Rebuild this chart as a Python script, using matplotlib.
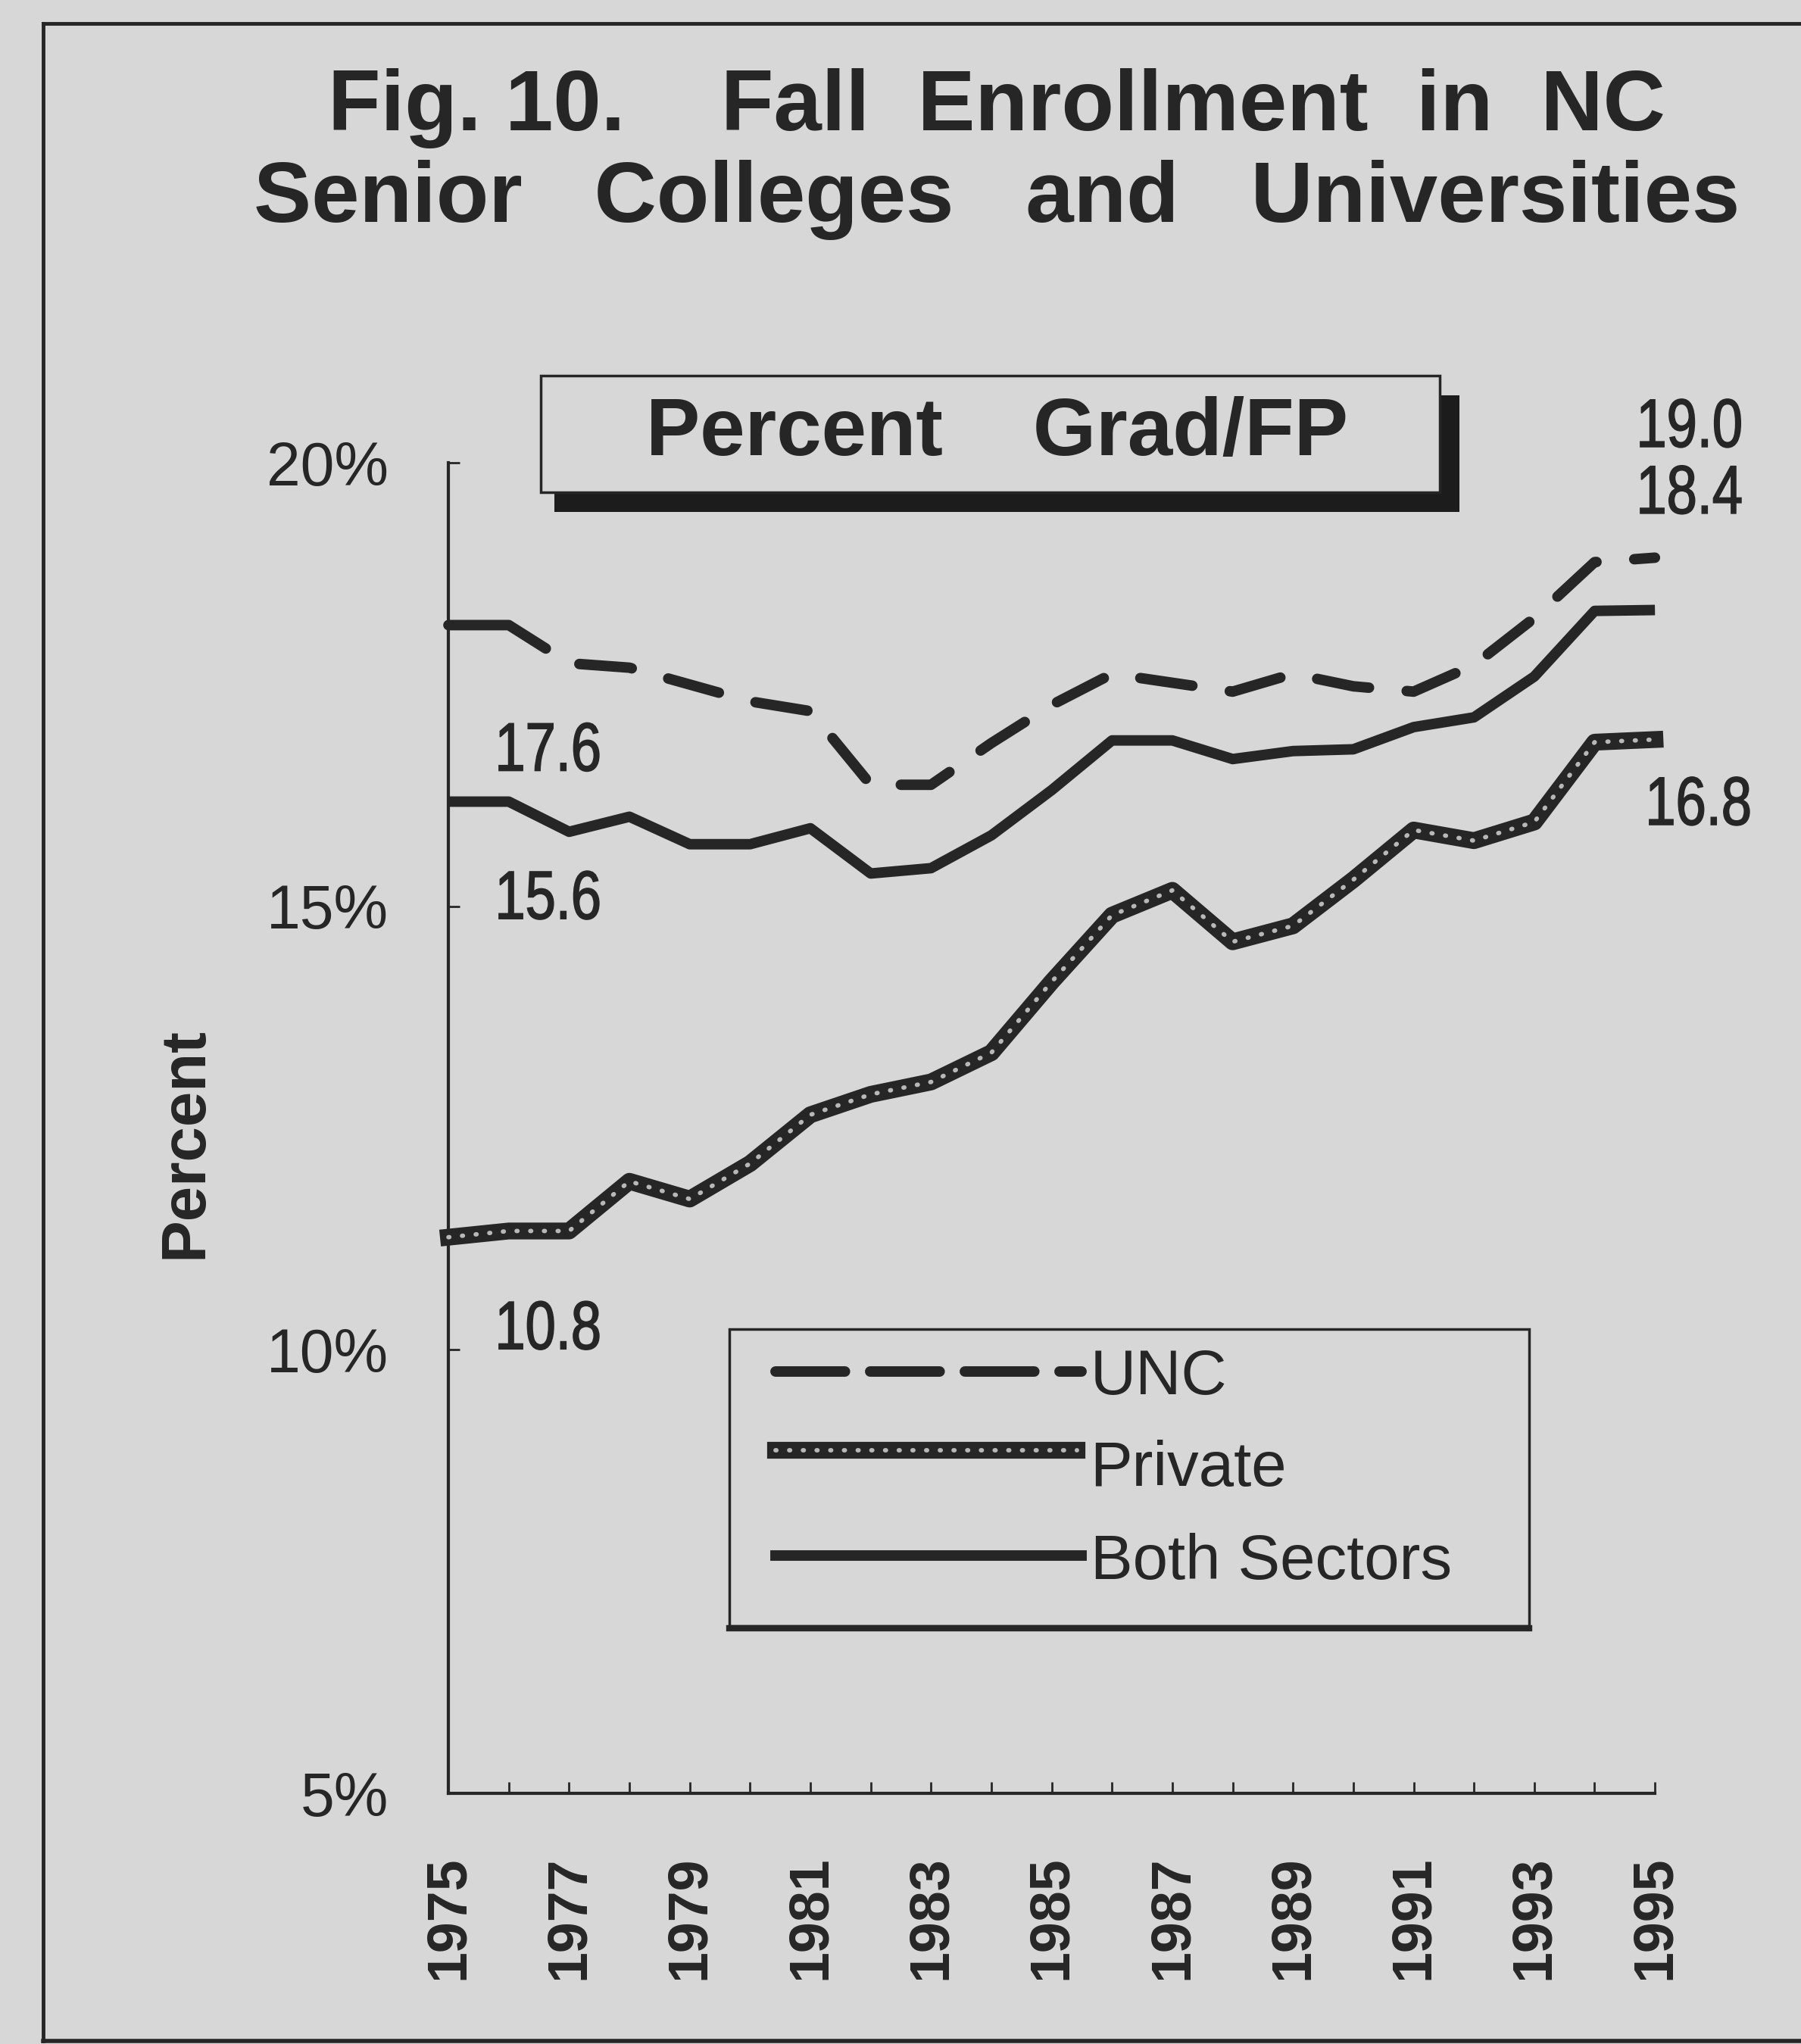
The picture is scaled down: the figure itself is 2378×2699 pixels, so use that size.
import matplotlib.pyplot as plt
import matplotlib.transforms as mtransforms
from matplotlib.patches import Rectangle, PathPatch
from matplotlib.lines import Line2D
from matplotlib.textpath import TextPath
from matplotlib.font_manager import FontProperties

# Percent Grad/FP, fall enrollment in NC senior colleges and universities
years = list(range(1975, 1996))
unc = [18.17, 18.17, 17.74, 17.69, 17.5, 17.31, 17.2, 16.37, 16.37, 16.84, 17.27,
       17.62, 17.52, 17.42, 17.62, 17.48, 17.42, 17.72, 18.25, 18.88, 18.93]
private = [11.27, 11.34, 11.34, 11.9, 11.7, 12.1, 12.65, 12.88, 13.02, 13.35, 14.15,
           14.9, 15.18, 14.6, 14.78, 15.3, 15.86, 15.74, 15.95, 16.85, 16.88]
both = [16.18, 16.18, 15.84, 16.01, 15.7, 15.7, 15.88, 15.37, 15.43, 15.8, 16.31,
        16.87, 16.87, 16.66, 16.75, 16.77, 17.02, 17.13, 17.59, 18.33, 18.34]

ytick_vals = [5, 10, 15, 20]
ytick_labels = ['5%', '10%', '15%', '20%']
xtick_labels = [str(y) if y % 2 == 1 else '' for y in years]

BG = '#d7d7d7'
INK = '#262626'
CHAIN = '#b8b8b8'
FONT = ['Liberation Sans', 'DejaVu Sans']

fig = plt.figure(figsize=(23.78, 26.99), dpi=100, facecolor=BG)
ax = fig.add_axes([0.2490, 0.1226, 0.6699, 0.6510])
ax.set_facecolor(BG)
ax.set_xlim(1975, 1995)
ax.set_ylim(5, 20)

# UNC dash pattern: a long first stroke, then regular dashes
unc_dash = (0, (9.9, 3.6) + (5, 3.6) * 25)

# series
ax.plot(years, both, color=INK, lw=10, solid_joinstyle='round',
        solid_capstyle='butt', zorder=3, clip_on=False)
ax.plot(years, unc, color=INK, lw=10, linestyle=unc_dash,
        dash_capstyle='round', dash_joinstyle='round', zorder=3, clip_on=False)
ax.plot(years, private, color=INK, lw=16, solid_joinstyle='round',
        zorder=3, clip_on=False)
ax.plot(years, private, color=CHAIN, lw=4.2, linestyle=(0, (0.2, 2.9)),
        dash_capstyle='round', zorder=4, clip_on=False)

# axes styling
for s in ['top', 'right']:
    ax.spines[s].set_visible(False)
for s in ['left', 'bottom']:
    ax.spines[s].set_linewidth(3)
    ax.spines[s].set_color(INK)

ax.set_xticks(years, labels=xtick_labels)
ax.set_yticks(ytick_vals, labels=ytick_labels)
ax.tick_params(axis='both', direction='in', length=11, width=2, colors=INK)
ax.tick_params(axis='y', pad=57)
ax.tick_params(axis='x', pad=59)
for lab in ax.get_yticklabels():
    lab.set_fontfamily(FONT)
    lab.set_fontsize(58)
for lab in ax.get_xticklabels():
    lab.set_fontfamily(FONT)
    lab.set_fontweight('bold')
    lab.set_fontsize(53)
    lab.set_rotation(90)

ax.set_ylabel('Percent', family=FONT, fontweight='bold', fontsize=60,
              color=INK)
ax.yaxis.set_label_coords(-0.194, 0.489)


# value labels: narrow lettering like the original typeface
def narrow_label(x, y, s, size=65, squeeze=0.8):
    path = TextPath((0, 0), s, size=size, prop=FontProperties(family='Liberation Sans'))
    tr = (mtransforms.Affine2D().scale(squeeze * fig.dpi / 72, fig.dpi / 72)
          + mtransforms.ScaledTranslation(x, y, ax.transData))
    fig.add_artist(PathPatch(path, transform=tr, facecolor=INK,
                             edgecolor=INK, lw=1.2, zorder=4))


narrow_label(1975.77, 16.53, '17.6')
narrow_label(1975.77, 14.86, '15.6')
narrow_label(1975.77, 10.01, '10.8')
narrow_label(1994.69, 20.18, '19.0')
narrow_label(1994.69, 19.43, '18.4')
narrow_label(1994.84, 15.92, '16.8')

# legend box drawn by hand
ax.add_patch(Rectangle((0.233, 0.126), 0.663, 0.223, transform=ax.transAxes,
                       facecolor='none', edgecolor=INK, lw=2.5, zorder=5))
ax.add_line(Line2D([0.233, 0.896], [0.124, 0.124], transform=ax.transAxes,
                   color=INK, lw=6, zorder=5))
ax.add_line(Line2D([0.271, 0.525], [0.317, 0.317], transform=ax.transAxes,
                   color=INK, lw=10, linestyle=(0, (6.6, 2.4)),
                   dash_capstyle='round', zorder=5))
ax.add_line(Line2D([0.271, 0.521], [0.258, 0.258], transform=ax.transAxes,
                   color=INK, lw=16, zorder=5))
ax.add_line(Line2D([0.271, 0.521], [0.258, 0.258], transform=ax.transAxes,
                   color=CHAIN, lw=4.2, linestyle=(0, (0.2, 2.9)),
                   dash_capstyle='round', zorder=6))
ax.add_line(Line2D([0.271, 0.525], [0.179, 0.179], transform=ax.transAxes,
                   color=INK, lw=10, zorder=5))
leg_kw = dict(transform=ax.transAxes, family=FONT, fontsize=60, color=INK,
              va='baseline', ha='left', zorder=6)
ax.text(0.532, 0.300, 'UNC', **leg_kw)
ax.text(0.532, 0.231, 'Private', **leg_kw)
ax.text(0.532, 0.161, 'Both Sectors', **leg_kw)

# "Percent Grad/FP" box with shadow
bx, by, bw, bh = 0.3003, 0.7592, 0.4991, 0.0570
fig.add_artist(Rectangle((bx + 0.0075, by - 0.0095), bw + 0.0035, bh,
                         transform=fig.transFigure, facecolor='#1c1c1c',
                         edgecolor='none', zorder=5))
fig.add_artist(Rectangle((bx, by), bw, bh, transform=fig.transFigure,
                         facecolor=BG, edgecolor=INK, lw=2.5, zorder=6))
fig.text(0.5535, 0.7877, 'Percent    Grad/FP', family=FONT, fontweight='bold',
         fontsize=77, color=INK, ha='center', va='center', zorder=7)

# title
fig.text(0.5535, 0.9363, 'Fig. 10.    Fall  Enrollment  in  NC', family=FONT,
         fontweight='bold', fontsize=82, color=INK, ha='center', va='baseline')
fig.text(0.5535, 0.8916, 'Senior   Colleges   and   Universities', family=FONT,
         fontweight='bold', fontsize=82, color=INK, ha='center', va='baseline')

# outer frame (left, top, bottom)
fig.add_artist(Line2D([0.024, 0.024], [0.0015, 0.9885], transform=fig.transFigure,
                      color=INK, lw=3.5))
fig.add_artist(Line2D([0.024, 1.0], [0.9885, 0.9885], transform=fig.transFigure,
                      color=INK, lw=3.5))
fig.add_artist(Line2D([0.024, 1.0], [0.0015, 0.0015], transform=fig.transFigure,
                      color=INK, lw=4))

plt.savefig('out.png', dpi=100, facecolor=BG)
